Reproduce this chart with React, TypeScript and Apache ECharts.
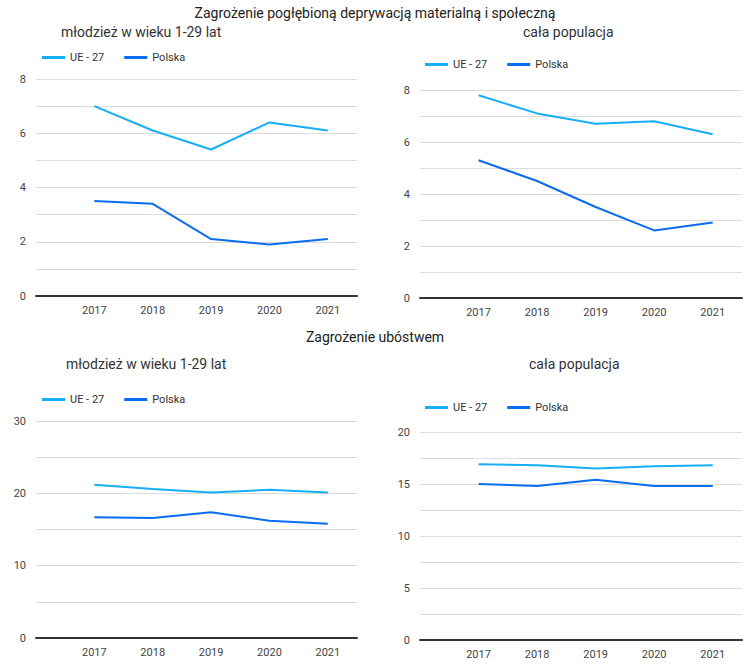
import React, { useEffect, useRef } from "react";
import * as echarts from "echarts";

const years = [2017, 2018, 2019, 2020, 2021];
const seriesNames = ["UE - 27", "Polska"];

const deprivYouthUE = [7.0, 6.1, 5.4, 6.4, 6.1];
const deprivYouthPL = [3.5, 3.4, 2.1, 1.9, 2.1];
const deprivAllUE = [7.8, 7.1, 6.7, 6.8, 6.3];
const deprivAllPL = [5.3, 4.5, 3.5, 2.6, 2.9];
const povertyYouthUE = [21.2, 20.6, 20.1, 20.5, 20.1];
const povertyYouthPL = [16.7, 16.6, 17.4, 16.2, 15.8];
const povertyAllUE = [16.9, 16.8, 16.5, 16.7, 16.8];
const povertyAllPL = [15.0, 14.8, 15.4, 14.8, 14.8];

const mainTitles = ["Zagrożenie pogłębioną deprywacją materialną i społeczną", "Zagrożenie ubóstwem"];
const subTitles = ["młodzież w wieku 1-29 lat", "cała populacja", "młodzież w wieku 1-29 lat", "cała populacja"];

const colorUE = "#18aef5";
const colorPL = "#0b6cf0";
const FONT = "Roboto";

const panels = [
  { ue: deprivYouthUE, pl: deprivYouthPL, max: 8, interval: 1, labelEvery: 2 },
  { ue: deprivAllUE, pl: deprivAllPL, max: 8, interval: 1, labelEvery: 2 },
  { ue: povertyYouthUE, pl: povertyYouthPL, max: 30, interval: 5, labelEvery: 10 },
  { ue: povertyAllUE, pl: povertyAllPL, max: 20, interval: 2.5, labelEvery: 5 },
];

const grids = [
  { left: 36, right: 393, top: 79, bottom: 372 },
  { left: 420, right: 8, top: 90, bottom: 370 },
  { left: 36, right: 393, top: 421, bottom: 30 },
  { left: 420, right: 8, top: 432, bottom: 28 },
];

const subTitlePos = [
  { left: 56, top: 20 },
  { left: 518, top: 20 },
  { left: 61, top: 352 },
  { left: 524, top: 352 },
];

const legendPos = [
  { left: 37, top: 47 },
  { left: 420, top: 54 },
  { left: 37, top: 389 },
  { left: 420, top: 397 },
];

export default function App() {
  const ref = useRef<HTMLDivElement>(null);
  useEffect(() => {
    if (!ref.current) return;
    const chart = echarts.init(ref.current, null, { renderer: "svg" });

    const titles: any[] = [
      { text: mainTitles[0], left: "center", top: 1, textStyle: { fontFamily: FONT, fontSize: 14, fontWeight: "normal", color: "#222" } },
      { text: mainTitles[1], left: "center", top: 325, textStyle: { fontFamily: FONT, fontSize: 14, fontWeight: "normal", color: "#222" } },
    ];
    subTitles.forEach((t, i) => {
      titles.push({
        text: t,
        left: subTitlePos[i].left,
        top: subTitlePos[i].top,
        textStyle: { fontFamily: FONT, fontSize: 14, fontWeight: "normal", color: "#333" },
      });
    });

    const legends = legendPos.map((p) => ({
      data: seriesNames,
      left: p.left,
      top: p.top,
      icon: "rect",
      itemWidth: 23,
      itemHeight: 3,
      itemGap: 20,
      textStyle: { fontFamily: FONT, fontSize: 11, color: "#333" },
      selectedMode: false,
    }));

    const xAxes = panels.map((_, i) => ({
      type: "value",
      gridIndex: i,
      min: 2016,
      max: 2021.5,
      interval: 1,
      axisLine: { show: true, onZero: false, lineStyle: { color: "#333", width: 2 } },
      axisTick: { show: false },
      splitLine: { show: false },
      axisLabel: {
        showMaxLabel: false,
        showMinLabel: false,
        margin: 9,
        fontFamily: FONT,
        fontSize: 11,
        color: "#444",
        formatter: (v: number) => (Number.isInteger(v) && v >= 2017 ? String(v) : ""),
      },
    }));

    const yAxes = panels.map((p, i) => ({
      type: "value",
      gridIndex: i,
      min: 0,
      max: p.max,
      interval: p.interval,
      axisLine: { show: false },
      axisTick: { show: false },
      splitLine: { show: true, lineStyle: { color: "#dcdcdc", width: 1 } },
      axisLabel: {
        margin: 10,
        fontFamily: FONT,
        fontSize: 11,
        color: "#444",
        formatter: (v: number) => (Math.abs(v % p.labelEvery) < 1e-9 ? String(v) : ""),
      },
    }));

    const series: any[] = [];
    panels.forEach((p, i) => {
      series.push({
        name: seriesNames[0],
        type: "line",
        xAxisIndex: i,
        yAxisIndex: i,
        data: years.map((y, k) => [y, p.ue[k]]),
        symbol: "none",
        lineStyle: { color: colorUE, width: 2 },
        itemStyle: { color: colorUE },
        z: 3,
      });
      series.push({
        name: seriesNames[1],
        type: "line",
        xAxisIndex: i,
        yAxisIndex: i,
        data: years.map((y, k) => [y, p.pl[k]]),
        symbol: "none",
        lineStyle: { color: colorPL, width: 2 },
        itemStyle: { color: colorPL },
        z: 3,
      });
    });

    chart.setOption({
      animation: false,
      backgroundColor: "#ffffff",
      title: titles,
      legend: legends,
      grid: grids,
      xAxis: xAxes,
      yAxis: yAxes,
      series,
    });
    return () => chart.dispose();
  }, []);

  return (
    <div
      ref={ref}
      style={{ position: "absolute", left: 0, top: 0, width: 750, height: 668 }}
    />
  );
}
